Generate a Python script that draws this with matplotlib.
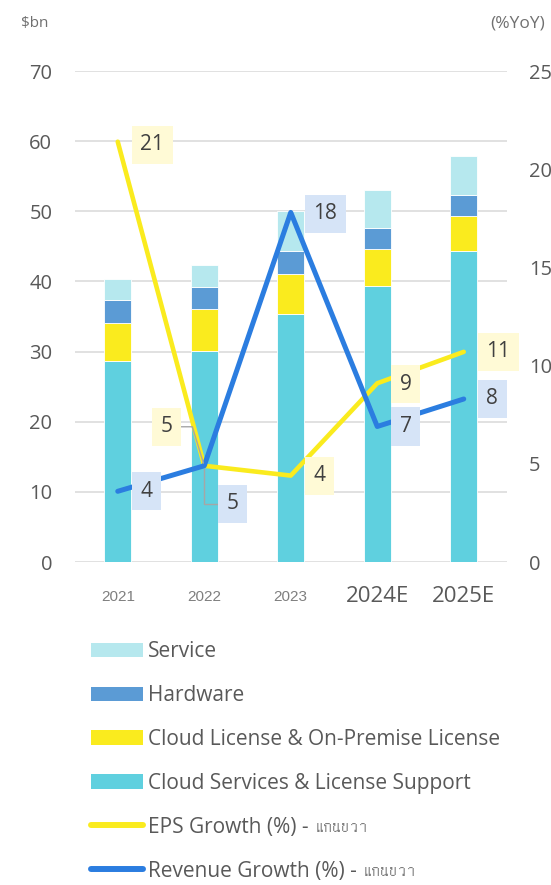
import numpy as np
import matplotlib
matplotlib.use("Agg")
import matplotlib.pyplot as plt
import matplotlib.font_manager as fm
from matplotlib.ft2font import FT2Font
from matplotlib.patches import Patch
from matplotlib.lines import Line2D

# data
years = ['2021', '2022', '2023', '2024E', '2025E']
cloud_services = [28.6, 30.1, 35.3, 39.3, 44.3]
cloud_license = [5.5, 5.9, 5.7, 5.3, 5.0]
hardware = [3.3, 3.2, 3.3, 3.0, 3.0]
service = [3.0, 3.2, 5.7, 5.5, 5.6]
eps_growth = [21.4, 4.9, 4.4, 9.1, 10.7]
revenue_growth = [3.6, 4.9, 17.8, 6.9, 8.3]

# colours
c_cs = '#5FD0DF'
c_cl = '#FAEB1E'
c_hw = '#5B9BD5'
c_sv = '#B6E8EE'
c_eps = '#FAEB1E'
c_rev = '#2B7DE0'
txt = '#595959'

# thai font (if any installed)
thai_font = None
for f in fm.findSystemFonts():
    try:
        if 0x0E01 in FT2Font(f).get_charmap():
            thai_font = f
            break
    except Exception:
        pass
thai_fp = fm.FontProperties(fname=thai_font, size=13) if thai_font else fm.FontProperties(family='DejaVu Sans', size=13)

plt.rcParams['font.family'] = ['Open Sans', 'DejaVu Sans']

W, H = 551, 885
fig = plt.figure(figsize=(W / 100, H / 100), dpi=100)
ax = fig.add_axes([74.5 / W, 1 - 562 / H, (507 - 74.5) / W, (562 - 71) / H])
ax2 = ax.twinx()

x = np.arange(len(years))
bw = 0.31
bottom = np.zeros(len(years))
for vals, col in [(cloud_services, c_cs), (cloud_license, c_cl), (hardware, c_hw), (service, c_sv)]:
    ax.bar(x, vals, bw, bottom=bottom, color=col, edgecolor='white', linewidth=0.6, zorder=2)
    bottom += np.array(vals)

ax.set_xlim(-0.5, 4.5)
ax.set_ylim(0, 70)
ax.set_yticks(np.arange(0, 71, 10))
ax2.set_ylim(0, 25)
ax2.set_yticks(np.arange(0, 26, 5))
ax.grid(axis='y', color='#D9D9D9', linewidth=1.1, zorder=0)
ax.set_axisbelow(True)
for a in (ax, ax2):
    for s in a.spines.values():
        s.set_visible(False)
ax.tick_params(axis='y', length=0, pad=16, labelsize=14.5, labelcolor=txt)
ax2.tick_params(axis='y', length=0, pad=16, labelsize=14.5, labelcolor=txt)
ax.set_xticks([])

# x labels: actual years small, estimates larger
for i, yr in enumerate(years):
    if yr.endswith('E'):
        ax.text(i, -0.082, yr, transform=ax.get_xaxis_transform(), ha='center', va='baseline',
                fontsize=16, color=txt)
    else:
        ax.text(i, -0.08, yr, transform=ax.get_xaxis_transform(), ha='center', va='baseline',
                fontsize=11, color='#7F7F7F', family='Liberation Sans')

# lines
ax2.plot(x, eps_growth, color=c_eps, lw=3.3, solid_capstyle='round', solid_joinstyle='round', zorder=3)
ax2.plot(x, revenue_growth, color=c_rev, lw=3.6, solid_capstyle='round', solid_joinstyle='round', zorder=4)

# data labels (offsets in pixels)
eps_off = [(14, -3, 'left'), (-23, 39, 'right'), (14, 0, 'left'), (14, -1, 'left'), (14, 0, 'left')]
rev_off = [(14, 0, 'left'), (13.5, -38, 'left'), (14, -1.5, 'left'), (14, 0, 'left'), (14, 0, 'left')]
pad_px = 8.5
fs = 15

def put_labels(vals, offs, fc):
    for i, (v, (dx, dy, ha)) in enumerate(zip(vals, offs)):
        sx = dx + pad_px if ha == 'left' else dx - pad_px
        kw = {}
        if abs(dy) > 20:
            if ha == 'left':
                cs = 'angle,angleA=0,angleB=90,rad=0'
            else:
                cs = 'angle,angleA=0,angleB=107,rad=0'
            kw['arrowprops'] = dict(arrowstyle='-', color='#A6A6A6', lw=1,
                                    connectionstyle=cs, shrinkA=0, shrinkB=2)
        ax2.annotate(f'{v:.0f}', xy=(i, v), xytext=(sx, dy), textcoords='offset pixels',
                     ha=ha, va='center', fontsize=fs, color='#404040', zorder=6,
                     bbox=dict(boxstyle='square,pad=0.41', fc=fc, ec='none'), **kw)

put_labels(eps_growth, eps_off, '#FFFAD6')
put_labels(revenue_growth, rev_off, '#D6E4F7')

# unit labels
fig.text(21 / W, 1 - 23 / H, '$bn', ha='left', va='center', fontsize=11, color='#707070')
fig.text(490 / W, 1 - 23 / H, '(%YoY)', ha='left', va='center', fontsize=12.5, color='#707070')

# legend
handles = [
    Patch(facecolor=c_sv, edgecolor='none'),
    Patch(facecolor=c_hw, edgecolor='none'),
    Patch(facecolor=c_cl, edgecolor='none'),
    Patch(facecolor=c_cs, edgecolor='none'),
    Line2D([0], [0], color=c_eps, lw=4.3, solid_capstyle='round'),
    Line2D([0], [0], color=c_rev, lw=4.3, solid_capstyle='round'),
]
labels = ['Service', 'Hardware', 'Cloud License & On-Premise License',
          'Cloud Services & License Support', 'EPS Growth (%) -', 'Revenue Growth (%) -']
leg = fig.legend(handles, labels, loc='upper left', bbox_to_anchor=(91 / W, 1 - 641 / H),
                 frameon=False, fontsize=15, handlelength=2.5, handleheight=0.67,
                 handletextpad=0.22, labelspacing=1.1, borderpad=0, borderaxespad=0)
for t in leg.get_texts():
    t.set_color(txt)

fig.canvas.draw()
r = fig.canvas.get_renderer()
for t in leg.get_texts()[4:]:
    bb = t.get_window_extent(r)
    fig.text((bb.x1 + 6) / W, (bb.y0 + 6) / H, 'แกนขวา', ha='left', va='baseline',
             fontproperties=thai_fp, color='#7F7F7F')

fig.savefig('out.png', dpi=100)
